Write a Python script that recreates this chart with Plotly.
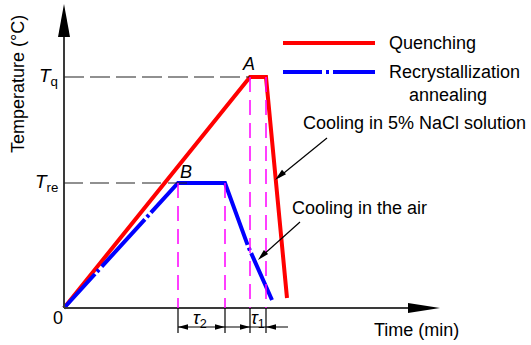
import plotly.graph_objects as go

# ---- data (schematic units: time, temperature) ----
red_time = [0, 186, 202, 223]
red_temp = [0, 231, 231, 10]
blue_time = [0, 114, 161, 184, 208]
blue_temp = [0, 125, 125, 62, 8]
T_q = 231
T_re = 125
legend_names = ["Quenching", "Recrystallization", "annealing"]

FONT = "Liberation Sans, Arial, sans-serif"
AX = "#3a3a3a"

fig = go.Figure()

shapes = []
annos = []

def tri(tip, base, half):
    # filled triangle, tip point, base centre point, half width
    tx, ty = tip
    bx, by = base
    dx, dy = tx - bx, ty - by
    L = (dx * dx + dy * dy) ** 0.5
    nx, ny = -dy / L * half, dx / L * half
    return dict(type="path", xref="x", yref="y",
                path=f"M{tx},{ty} L{bx+nx},{by+ny} L{bx-nx},{by-ny} Z",
                fillcolor="black", line=dict(width=0))

def seg(x0, y0, x1, y1, color="black", width=1.2, dash="solid"):
    return dict(type="line", xref="x", yref="y", x0=x0, y0=y0, x1=x1, y1=y1,
                line=dict(color=color, width=width, dash=dash), layer="above")

# axes
shapes.append(seg(0, 0, 0, 280, AX, 2))
shapes.append(tri((0, 304), (0, 271), 6))
shapes.append(seg(0, 0, 350, 0, AX, 2))
shapes.append(tri((376, 0), (344, 0), 5))

# reference dashed lines
shapes.append(seg(0, T_q, red_time[1], T_q, "#222", 1.2, "20px,6px"))
shapes.append(seg(0, T_re, blue_time[1] + 16, T_re, "#222", 1.2, "19px,7px"))

# magenta guide lines
for xv, yv in [(blue_time[1], T_re), (blue_time[2], T_re), (red_time[1], T_q), (red_time[2], T_q)]:
    shapes.append(seg(xv, yv, xv, 0, "#ff00ff", 1.5, "15px,8px"))
    shapes.append(seg(xv, 0, xv, -25, "black", 1.2))

# dimension line
dy = -19
shapes.append(seg(blue_time[1], dy, red_time[2] + 22, dy, "black", 1.2))
shapes.append(tri((blue_time[1], dy), (blue_time[1] + 10, dy), 2.8))
shapes.append(tri((blue_time[2], dy), (blue_time[2] - 10, dy), 2.8))
shapes.append(tri((red_time[1], dy), (red_time[1] - 10, dy), 2.8))
shapes.append(tri((red_time[2], dy), (red_time[2] + 10, dy), 2.8))

# pointer arrows
shapes.append(seg(263, 170, 215, 131, "black", 1.2))
shapes.append(tri((211, 128), (220, 136), 3))
shapes.append(seg(236, 86, 198, 52, "black", 1.2))
shapes.append(tri((194, 48), (202, 56), 3))

# curves
fig.add_trace(go.Scatter(x=red_time, y=red_temp, mode="lines",
                         line=dict(color="#ff0000", width=4), hoverinfo="skip",
                         showlegend=False))
fig.add_trace(go.Scatter(x=blue_time, y=blue_temp, mode="lines",
                         line=dict(color="#0000ff", width=4,
                                   dash="46px,3px,3px,4px,64px,3px,3px,3px,153px,3px,3px,3px,100px"),
                         hoverinfo="skip", showlegend=False))

# legend (manual)
shapes.append(seg(219, 265, 311, 265, "#ff0000", 4))
shapes.append(seg(219, 236, 311, 236, "#0000ff", 4, "39px,4px,3px,4px,60px"))

def txt(x, y, s, size=18, xanchor="center", yanchor="middle", angle=0):
    annos.append(dict(x=x, y=y, xref="x", yref="y", text=s, showarrow=False,
                      xanchor=xanchor, yanchor=yanchor, textangle=angle,
                      font=dict(family=FONT, size=size, color="black")))

txt(323, 265, legend_names[0], xanchor="left")
txt(323, 236, legend_names[1], xanchor="left")
txt(384, 213, legend_names[2])
txt(237, 185, "Cooling in 5% NaCl solution", xanchor="left")
txt(226, 100, "Cooling in the air", xanchor="left")

txt(-4, T_q, "<i>T</i><sub>q</sub>", 19, xanchor="right")
txt(-4, T_re, "<i>T</i><sub>re</sub>", 19, xanchor="right")
txt(-6, -10, "0", 18)
txt(-46, 224, "Temperature (°C)", 18, angle=-90)
txt(352, -22, "Time (min)", 18)
txt(184, 244, "<i>A</i>", 18)
txt(122, 136, "<i>B</i>", 18)
txt(136, -11, "<i>τ</i><sub>2</sub>", 18)
txt(194, -11, "<i>τ</i><sub>1</sub>", 18)

fig.update_layout(
    width=531, height=345,
    margin=dict(l=0, r=0, t=0, b=0),
    paper_bgcolor="white", plot_bgcolor="white",
    xaxis=dict(range=[-64, 467], visible=False, fixedrange=True),
    yaxis=dict(range=[-37, 308], visible=False, fixedrange=True),
    shapes=shapes, annotations=annos, showlegend=False,
)

fig.write_html("out.html", config={"displayModeBar": False},
               post_script="document.body.style.margin='0';document.body.style.overflow='hidden';")
